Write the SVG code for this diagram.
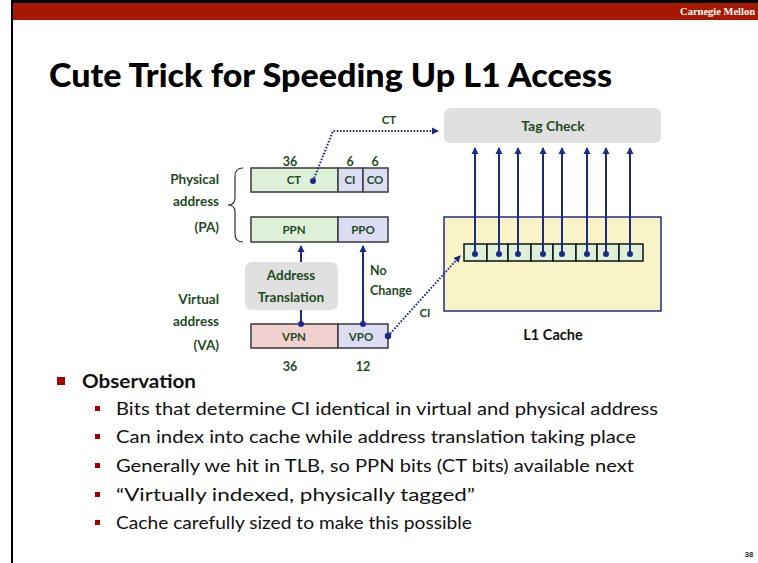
<svg xmlns="http://www.w3.org/2000/svg" width="758" height="563" viewBox="0 0 758 563">
<style>
.lbl{font-family:Lato,"Open Sans","Liberation Sans",sans-serif;font-weight:bold;fill:#1f4a1f}
.bx{stroke:#3a3a3a;stroke-width:1.5}
.g{fill:#dff0d8}
.p{fill:#dcdcf4}
.r{fill:#f3d0d0}
.nav{stroke:#1c2a85;stroke-width:2;fill:none}
.dot{stroke:#1c2a85;stroke-width:2;fill:none;stroke-dasharray:1.6 1.6}
.body{font-family:Lato,"Open Sans","Liberation Sans",sans-serif;font-size:17px;fill:#111}
</style>
<defs>
<marker id="ah" markerWidth="8" markerHeight="8" refX="6" refY="4" orient="auto" markerUnits="userSpaceOnUse">
<path d="M0,0.5 L7,4 L0,7.5 Z" fill="#1c2a85"/>
</marker>
</defs>
<rect width="758" height="563" fill="#fff"/>
<!-- header -->
<rect x="12" y="0" width="746" height="3" fill="#000"/>
<rect x="12" y="3" width="746" height="17" fill="#a81800"/>
<rect x="11" y="0" width="2" height="563" fill="#000"/>
<text x="755" y="15" text-anchor="end" font-family="Liberation Serif,serif" font-weight="bold" font-size="10.5" fill="#fff">Carnegie Mellon</text>
<text x="49" y="87" font-family="Lato,'Open Sans','Liberation Sans',sans-serif" font-weight="900" font-size="33" fill="#000" textLength="563" lengthAdjust="spacingAndGlyphs">Cute Trick for Speeding Up L1 Access</text>

<!-- Tag check -->
<g id="tagcheck">
<rect x="444" y="108" width="217" height="35" rx="6" fill="#e0e0e0"/>
<text class="lbl" x="553" y="131" font-size="14" text-anchor="middle">Tag Check</text>
</g>

<!-- L1 cache -->
<g id="l1cache">
<rect x="444" y="217" width="217" height="94" fill="#f8f4c8" stroke="#1c2a85" stroke-width="1.5"/>
<g fill="#dff0d8" stroke="#111" stroke-width="1.5">
<rect x="464" y="244" width="23" height="17"/>
<rect x="487" y="244" width="21" height="17"/>
<rect x="508" y="244" width="23" height="17"/>
<rect x="531" y="244" width="22" height="17"/>
<rect x="553" y="244" width="23" height="17"/>
<rect x="576" y="244" width="21" height="17"/>
<rect x="597" y="244" width="22" height="17"/>
<rect x="619" y="244" width="24" height="17"/>
</g>
<g fill="#1c2a85">
<circle cx="475" cy="254" r="3"/><circle cx="499" cy="254" r="3"/><circle cx="518" cy="254" r="3"/><circle cx="543" cy="254" r="3"/>
<circle cx="562" cy="254" r="3"/><circle cx="587" cy="254" r="3"/><circle cx="606" cy="254" r="3"/><circle cx="630" cy="254" r="3"/>
</g>
<text x="553" y="340" font-family="Lato,'Open Sans','Liberation Sans',sans-serif" font-weight="bold" font-size="14.5" fill="#111" text-anchor="middle">L1 Cache</text>
</g>

<!-- Physical address -->
<g id="pa">
<text class="lbl" x="219" y="184" font-size="13.5" text-anchor="end">Physical</text>
<text class="lbl" x="219" y="206" font-size="13.5" text-anchor="end">address</text>
<text class="lbl" x="219" y="232" font-size="13.5" text-anchor="end">(PA)</text>
<path d="M243,168 Q235,168 235,176 L235,198 Q235,205 228,205 Q235,205 235,212 L235,234 Q235,242 243,242" fill="none" stroke="#333" stroke-width="1.2"/>
<text class="lbl" x="290" y="166" font-size="12.5" text-anchor="middle">36</text>
<text class="lbl" x="350" y="166" font-size="12.5" text-anchor="middle">6</text>
<text class="lbl" x="375" y="166" font-size="12.5" text-anchor="middle">6</text>
<rect class="bx g" x="251" y="168" width="87" height="24"/>
<rect class="bx p" x="338" y="168" width="25" height="24"/>
<rect class="bx p" x="363" y="168" width="25" height="24"/>
<text class="lbl" x="294" y="184" font-size="11.5" text-anchor="middle">CT</text>
<circle cx="313" cy="181" r="3" fill="#1c2a85"/>
<text class="lbl" x="350" y="184" font-size="11.5" text-anchor="middle">CI</text>
<text class="lbl" x="375" y="184" font-size="11.5" text-anchor="middle">CO</text>
<rect class="bx g" x="251" y="217" width="87" height="25"/>
<rect class="bx p" x="338" y="217" width="50" height="25"/>
<text class="lbl" x="294" y="234" font-size="11.5" text-anchor="middle">PPN</text>
<text class="lbl" x="363" y="234" font-size="11.5" text-anchor="middle">PPO</text>
</g>

<!-- Address translation -->
<g id="translation">
<rect x="245" y="262" width="93" height="48" rx="7" fill="#e0e0e0"/>
<text class="lbl" x="291" y="280" font-size="13.5" text-anchor="middle">Address</text>
<text class="lbl" x="291" y="302" font-size="13.5" text-anchor="middle">Translation</text>
</g>

<!-- Virtual address -->
<g id="va">
<text class="lbl" x="219" y="304" font-size="13.5" text-anchor="end">Virtual</text>
<text class="lbl" x="219" y="326" font-size="13.5" text-anchor="end">address</text>
<text class="lbl" x="219" y="350" font-size="13.5" text-anchor="end">(VA)</text>
<rect class="bx r" x="251" y="324" width="87" height="24"/>
<rect class="bx p" x="338" y="324" width="50" height="24"/>
<text class="lbl" x="294" y="341" font-size="11.5" text-anchor="middle">VPN</text>
<text class="lbl" x="361" y="341" font-size="11.5" text-anchor="middle">VPO</text>
<circle cx="301" cy="324" r="3" fill="#1c2a85"/>
<circle cx="363" cy="324" r="3" fill="#1c2a85"/>
<circle cx="388" cy="336" r="3.2" fill="#1c2a85"/>
<text class="lbl" x="290" y="371" font-size="12.5" text-anchor="middle">36</text>
<text class="lbl" x="363" y="371" font-size="12.5" text-anchor="middle">12</text>
</g>

<!-- connectors -->
<g id="connectors">
<polyline class="dot" points="313,181 333,131 438,131" marker-end="url(#ah)"/>
<line class="dot" x1="388" y1="336" x2="460" y2="256" marker-end="url(#ah)"/>
<line class="nav" x1="301" y1="324" x2="301" y2="310"/>
<line class="nav" x1="301" y1="262" x2="301" y2="246" marker-end="url(#ah)"/>
<line class="nav" x1="363" y1="324" x2="363" y2="246" marker-end="url(#ah)"/>
<g marker-end="url(#ah)">
<line class="nav" x1="475" y1="254" x2="475" y2="148"/>
<line class="nav" x1="499" y1="254" x2="499" y2="148"/>
<line class="nav" x1="518" y1="254" x2="518" y2="148"/>
<line class="nav" x1="543" y1="254" x2="543" y2="148"/>
<line class="nav" x1="562" y1="254" x2="562" y2="148"/>
<line class="nav" x1="587" y1="254" x2="587" y2="148"/>
<line class="nav" x1="606" y1="254" x2="606" y2="148"/>
<line class="nav" x1="630" y1="254" x2="630" y2="148"/>
</g>
<text class="lbl" x="389" y="124" font-size="11.5" text-anchor="middle">CT</text>
<text class="lbl" x="425" y="317" font-size="11.5" text-anchor="middle">CI</text>
<text class="lbl" x="370" y="275" font-size="12.5">No</text>
<text class="lbl" x="370" y="295" font-size="12.5">Change</text>
</g>

<!-- Bullets -->
<g id="observations">
<rect x="57" y="377" width="8" height="8" fill="#a00000"/>
<text x="82" y="388" font-family="Lato,'Open Sans','Liberation Sans',sans-serif" font-weight="bold" font-size="19" fill="#111" textLength="114" lengthAdjust="spacingAndGlyphs">Observation</text>
<g fill="#a00000">
<rect x="95" y="406" width="5" height="5"/>
<rect x="95" y="434" width="5" height="5"/>
<rect x="95" y="463" width="5" height="5"/>
<rect x="95" y="492" width="5" height="5"/>
<rect x="95" y="520" width="5" height="5"/>
</g>
<text class="body" x="116" y="415" textLength="542" lengthAdjust="spacingAndGlyphs">Bits that determine CI identical in virtual and physical address</text>
<text class="body" x="116" y="443" textLength="520" lengthAdjust="spacingAndGlyphs">Can index into cache while address translation taking place</text>
<text class="body" x="116" y="472" textLength="518" lengthAdjust="spacingAndGlyphs">Generally we hit in TLB, so PPN bits (CT bits) available next</text>
<text class="body" x="116" y="501" textLength="359" lengthAdjust="spacingAndGlyphs">“Virtually indexed, physically tagged”</text>
<text class="body" x="116" y="529" textLength="356" lengthAdjust="spacingAndGlyphs">Cache carefully sized to make this possible</text>
</g>
<text x="749" y="557" text-anchor="middle" font-family="'Liberation Sans',sans-serif" font-weight="bold" font-size="7.5" fill="#222">38</text>
</svg>
